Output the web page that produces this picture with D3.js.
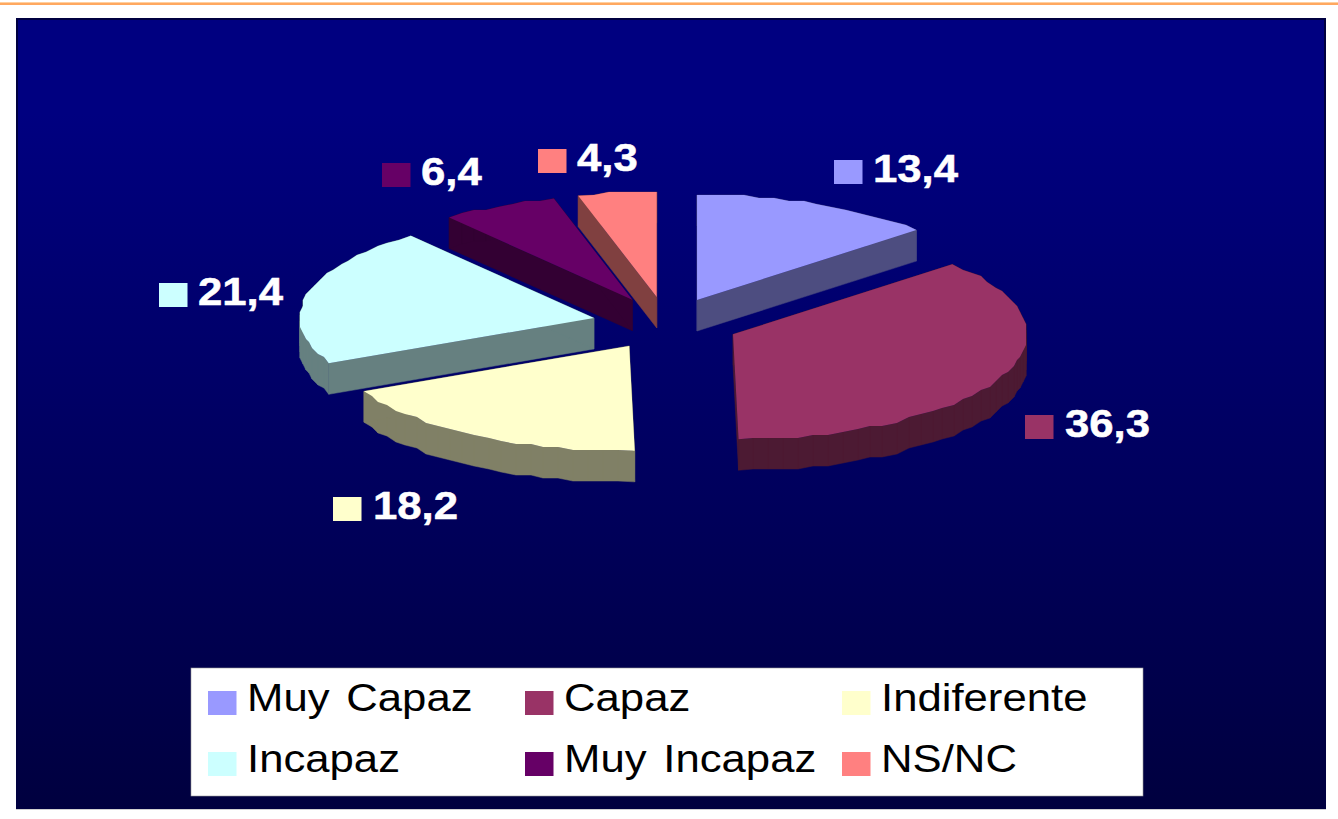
<!DOCTYPE html>
<html><head><meta charset="utf-8">
<style>html,body{margin:0;padding:0;background:#fff;overflow:hidden}svg{display:block}text{font-family:"Liberation Sans",Arial,sans-serif}</style>
<script src="https://cdnjs.cloudflare.com/ajax/libs/d3/7.8.5/d3.min.js"></script>
</head><body><svg id="c" width="1338" height="819"></svg>
<script>
const categories = ["Muy Capaz","Capaz","Indiferente","Incapaz","Muy Incapaz","NS/NC"];
const values = [13.4,36.3,18.2,21.4,6.4,4.3];
const valueLabels = ["13,4","36,3","18,2","21,4","6,4","4,3"];
const topColors = ["#9999FF","#993366","#FFFFCC","#CCFFFF","#660066","#FF8080"];
const sideColors = ["#4D4D80","#4C1A33","#808066","#668080","#330033","#804040"];

// layout
const C = {x:667,y:324,rx:294,ry:105,depth:31};
const explode = [0.25,0.245,0.245,0.255,0.26,0.26];
const labelPos = [[834,160],[1025,415],[333,497],[159,283],[382,163],[538,149]];
const labelTextDx = [39,40,40,39,39,39];

const svg = d3.select("#c");
const defs = svg.append("defs");
const g = defs.append("linearGradient").attr("id","bg").attr("x1",0).attr("y1",0).attr("x2",0).attr("y2",1);
g.append("stop").attr("offset",0).attr("stop-color","#000080");
g.append("stop").attr("offset",0.12).attr("stop-color","#000080");
g.append("stop").attr("offset",1).attr("stop-color","#00003f");

// page furniture
svg.append("rect").attr("x",0).attr("y",2).attr("width",1338).attr("height",1).attr("fill","#ffd0a0");
svg.append("rect").attr("x",0).attr("y",3).attr("width",1338).attr("height",2).attr("fill","#ffa860");
svg.append("rect").attr("x",16).attr("y",809).attr("width",1310).attr("height",1).attr("fill","#d0d0d0");
svg.append("rect").attr("x",17).attr("y",19).attr("width",1308).attr("height",789)
  .attr("fill","url(#bg)").attr("stroke","#000040").attr("stroke-width",2);

// pie
const arcs = d3.pie().value(d=>d).sort(null).startAngle(0).endAngle(2*Math.PI)(values);
const line = d3.line();
const grid = 3;
function slicePoints(a,e){
  const mid=(a.startAngle+a.endAngle)/2;
  const ax=C.x+e*C.rx*Math.sin(mid), ay=C.y-e*C.ry*Math.cos(mid);
  const pts=[[ax,ay]];
  const n=Math.max(2,Math.round((a.endAngle-a.startAngle)/(3*Math.PI/180)));
  d3.range(n+1).forEach(i=>{
    const t=a.startAngle+(a.endAngle-a.startAngle)*i/n;
    let x=ax+C.rx*Math.sin(t), y=ay-C.ry*Math.cos(t);
    if(i>0&&i<n){x=Math.round(x/grid)*grid;y=Math.round(y/grid)*grid;}
    pts.push([x,y]);
  });
  return pts;
}
const order=[5,4,0,3,2,1];
const pie=svg.append("g");
order.forEach(i=>{
  const pts=slicePoints(arcs[i],explode[i]);
  const side=pie.append("g").attr("fill",sideColors[i]).attr("stroke",sideColors[i]).attr("stroke-width",0.5);
  // walls: sweep every outline edge down by the depth
  pts.forEach((p,k)=>{
    const q=pts[(k+1)%pts.length];
    side.append("path").attr("d",line([p,q,[q[0],q[1]+C.depth],[p[0],p[1]+C.depth]])+"Z");
  });
  pie.append("path").attr("d",line(pts)+"Z").attr("fill",topColors[i]);
});

// data labels
const labels=svg.append("g");
values.forEach((v,i)=>{
  const [x,y]=labelPos[i];
  labels.append("rect").attr("x",x).attr("y",y).attr("width",28.5).attr("height",24).attr("fill",topColors[i]);
  labels.append("text").attr("transform",`translate(${x+labelTextDx[i]},${y+22}) scale(1.15,1)`)
    .attr("font-size",38).attr("font-weight","bold").attr("fill","#fff")
    .attr("stroke","#fff").attr("stroke-width",0.5).text(valueLabels[i]);
});

// legend
const lg=svg.append("g");
lg.append("rect").attr("x",191).attr("y",668).attr("width",952).attr("height",128).attr("fill","#fff").attr("stroke","#999").attr("stroke-width",0.6);
const colX=d3.scalePoint().domain([0,1,2]).range([208,842]);
const rowY=d3.scalePoint().domain([0,1]).range([691,752]);
categories.forEach((c,i)=>{
  const x=colX(i%3), y=rowY(Math.floor(i/3));
  lg.append("rect").attr("x",x).attr("y",y).attr("width",28.5).attr("height",24).attr("fill",topColors[i]);
  lg.append("text").attr("transform",`translate(${x+39},${y+20}) scale(1.15,1)`)
    .attr("font-size",38).attr("word-spacing",4).attr("fill","#000").text(c);
});
</script></body></html>
